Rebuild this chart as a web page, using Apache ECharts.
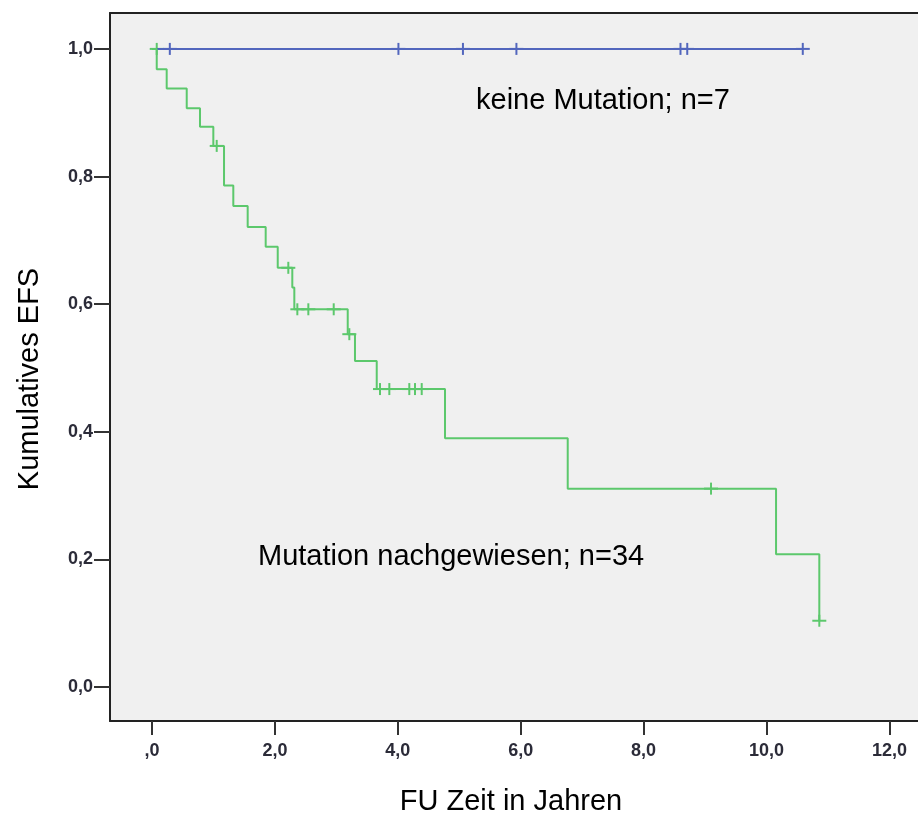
<!DOCTYPE html>
<html>
<head>
<meta charset="utf-8">
<title>Kumulatives EFS</title>
<script src="https://cdn.jsdelivr.net/npm/echarts@6/dist/echarts.min.js"></script>
<style>
    html, body { margin: 0; padding: 0; background: #fff; }
    #km_chart { width: 918px; height: 821px; }
</style>
</head>
<body>
<div id="km_chart"></div>
<script>
// Kaplan-Meier: Mutation nachgewiesen (n=34) gegen keine Mutation (n=7)

// Zeitpunkte der Stufen (Jahre) und Überleben danach
var mutTimes = [0, 0.077, 0.239, 0.565, 0.781, 0.998, 1.172, 1.323, 1.557, 1.850, 2.046, 2.283, 2.316, 3.185, 3.303, 3.657, 4.768, 6.765, 10.155, 10.859];
var mutSurv  = [1.0, 0.968, 0.938, 0.907, 0.878, 0.848, 0.786, 0.754, 0.721, 0.690, 0.657, 0.626, 0.592, 0.553, 0.511, 0.467, 0.390, 0.311, 0.208, 0.104];
// zensierte Fälle
var mutCensT = [0.077, 1.053, 2.218, 2.365, 2.544, 2.957, 3.211, 3.710, 3.862, 4.187, 4.280, 4.389, 9.097, 10.859];
var mutCensS = [1.0, 0.848, 0.657, 0.592, 0.592, 0.592, 0.553, 0.467, 0.467, 0.467, 0.467, 0.467, 0.311, 0.104];

var noMutTimes = [0, 10.59];
var noMutSurv  = [1.0, 1.0];
var noMutCensT = [0.29, 4.01, 5.06, 5.93, 8.60, 8.71, 10.59];
var noMutCensS = [1.0, 1.0, 1.0, 1.0, 1.0, 1.0, 1.0];

var xTicks = [0, 2, 4, 6, 8, 10, 12];
var yTicks = [0, 0.2, 0.4, 0.6, 0.8, 1.0];

var green = '#5cc86c';
var blue = '#5266bd';

function pairs(a, b) {
    var out = [];
    for (var i = 0; i < a.length; i++) {
        out.push([a[i], b[i]]);
    }
    return out;
}

// Zensierung als kleines Kreuz
function renderCross(params, api) {
    var p = api.coord([api.value(0), api.value(1)]);
    var c = api.visual('color');
    return {
        type: 'group',
        children: [
            { type: 'line', shape: { x1: p[0] - 7, y1: p[1], x2: p[0] + 7, y2: p[1] }, style: { stroke: c, lineWidth: 2 } },
            { type: 'line', shape: { x1: p[0], y1: p[1] - 6, x2: p[0], y2: p[1] + 6 }, style: { stroke: c, lineWidth: 2 } }
        ]
    };
}

// SPSS-Stil: ",0" auf der Zeitachse, "0,0" auf der EFS-Achse
function fmtX(v) {
    if (v === 0) return ',0';
    return v.toFixed(1).replace('.', ',');
}
function fmtY(v) {
    return v.toFixed(1).replace('.', ',');
}

var e = echarts.init(document.getElementById('km_chart'));
var tickFont = { fontFamily: 'Liberation Sans', fontSize: 18, fontWeight: 'bold', color: '#2b2b38' };
var bigFont = { fontFamily: 'Liberation Sans', fontSize: 29, color: '#000' };
var frameLine = { show: true, onZero: false, lineStyle: { color: '#222', width: 2 } };
var xMin = -0.6835, xMax = 12.465;
var option = {
    animation: false,
    backgroundColor: '#fff',
    grid: {
        show: true,
        left: 110,
        top: 13,
        right: 0,
        bottom: 98,
        backgroundColor: '#f0f0f0',
        borderWidth: 0
    },
    xAxis: [
        {
            type: 'value',
            min: xMin,
            max: xMax,
            name: 'FU Zeit in Jahren',
            nameLocation: 'middle',
            nameGap: 66,
            nameTextStyle: Object.assign({ padding: [0, 6, 0, 0] }, bigFont),
            axisLine: frameLine,
            splitLine: { show: false },
            axisTick: { show: true, length: 14, customValues: xTicks, lineStyle: { color: '#333', width: 2 } },
            axisLabel: Object.assign({ margin: 21, customValues: xTicks, formatter: fmtX }, tickFont)
        },
        {
            // nur obere Rahmenlinie
            type: 'value',
            position: 'top',
            min: xMin,
            max: xMax,
            axisLine: frameLine,
            axisTick: { show: false },
            axisLabel: { show: false },
            splitLine: { show: false }
        }
    ],
    yAxis: {
        type: 'value',
        min: -0.0531,
        max: 1.05625,
        name: 'Kumulatives EFS',
        nameLocation: 'middle',
        nameRotate: 90,
        nameGap: 66,
        nameTextStyle: Object.assign({ padding: [0, 24, 0, 0] }, bigFont),
        axisLine: frameLine,
        splitLine: { show: false },
        axisTick: { show: true, length: 16, customValues: yTicks, lineStyle: { color: '#333', width: 2 } },
        axisLabel: Object.assign({ margin: 17, customValues: yTicks, formatter: fmtY }, tickFont)
    },
    graphic: [
        {
            type: 'text', left: 476, top: 86,
            style: Object.assign({ text: 'keine Mutation; n=7' }, bigFont)
        },
        {
            type: 'text', left: 258, top: 542,
            style: Object.assign({ text: 'Mutation nachgewiesen; n=34' }, bigFont)
        }
    ],
    series: [
        {
            name: 'keine Mutation',
            type: 'line',
            step: 'end',
            showSymbol: false,
            data: pairs(noMutTimes, noMutSurv),
            lineStyle: { color: blue, width: 2 },
            itemStyle: { color: blue }
        },
        {
            name: 'keine Mutation zensiert',
            type: 'custom',
            renderItem: renderCross,
            data: pairs(noMutCensT, noMutCensS),
            itemStyle: { color: blue }
        },
        {
            name: 'Mutation nachgewiesen',
            type: 'line',
            step: 'end',
            showSymbol: false,
            data: pairs(mutTimes, mutSurv),
            lineStyle: { color: green, width: 2 },
            itemStyle: { color: green }
        },
        {
            name: 'Mutation zensiert',
            type: 'custom',
            renderItem: renderCross,
            data: pairs(mutCensT, mutCensS),
            itemStyle: { color: green }
        }
    ]
};
e.setOption(option);
</script>
</body>
</html>
